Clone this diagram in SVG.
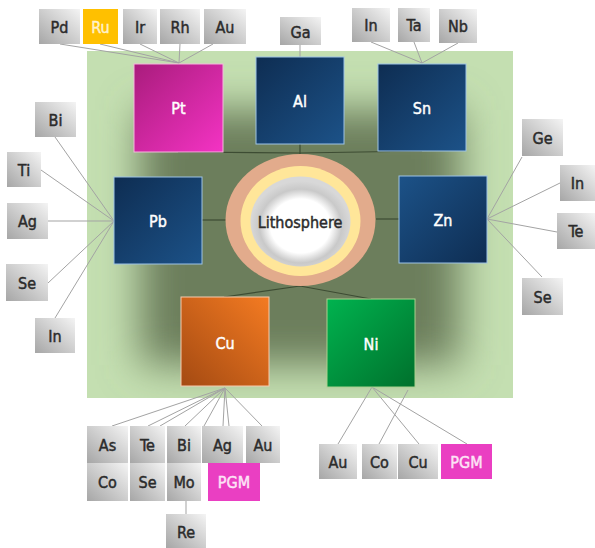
<svg xmlns="http://www.w3.org/2000/svg" width="595" height="548" viewBox="0 0 595 548">
<defs>
<linearGradient id="gGray" x1="0" y1="1" x2="1" y2="0"><stop offset="0" stop-color="#a6a6a6"/><stop offset="1" stop-color="#f4f4f4"/></linearGradient>
<linearGradient id="gBlue" x1="0" y1="0" x2="1" y2="1"><stop offset="0" stop-color="#0e2d52"/><stop offset="1" stop-color="#1c5288"/></linearGradient>
<linearGradient id="gBlueR" x1="1" y1="1" x2="0" y2="0"><stop offset="0" stop-color="#0e2d52"/><stop offset="1" stop-color="#1c5288"/></linearGradient>
<linearGradient id="gPink" x1="0" y1="0" x2="1" y2="1"><stop offset="0" stop-color="#a91c7c"/><stop offset="1" stop-color="#f433c4"/></linearGradient>
<linearGradient id="gOrange" x1="0" y1="1" x2="1" y2="0"><stop offset="0" stop-color="#a44a12"/><stop offset="1" stop-color="#f47b22"/></linearGradient>
<linearGradient id="gGreen" x1="0" y1="0" x2="1" y2="1"><stop offset="0" stop-color="#00b34f"/><stop offset="1" stop-color="#00702c"/></linearGradient>
<radialGradient id="gCore" cx="0.5" cy="0.55" r="0.5"><stop offset="0" stop-color="#ffffff"/><stop offset="0.6" stop-color="#ffffff"/><stop offset="0.82" stop-color="#c9c9c9"/><stop offset="1" stop-color="#d8d8d8"/></radialGradient>
<filter id="blur" x="-50%" y="-50%" width="200%" height="200%"><feGaussianBlur stdDeviation="20"/></filter>
<clipPath id="clipBg"><rect x="87" y="51" width="426" height="347"/></clipPath>
</defs>
<style>
.g{fill:url(#gGray)}
.t{font-family:"DejaVu Sans Condensed","DejaVu Sans",sans-serif;font-size:16px;text-anchor:middle;dominant-baseline:central;stroke-width:0.45}
.dk{fill:#2b2b2b;stroke:#2b2b2b}
.wt{fill:#ffffff;stroke:#ffffff}
.ol{stroke:#a3a3a3;stroke-width:1;fill:none}
.il{stroke:#3d4c33;stroke-width:1.2;fill:none}
.bl{stroke:#9dc3e6;stroke-width:1}
</style>
<rect width="595" height="548" fill="#ffffff"/>
<g id="background">
<rect x="87" y="51" width="426" height="347" fill="#c4dfb1"/>
<g clip-path="url(#clipBg)"><rect x="140" y="110" width="320" height="255" fill="#6c7e5c" filter="url(#blur)"/></g>
</g>
<g id="connectors">
<line class="ol" x1="60" y1="44" x2="179" y2="63"/>
<line class="ol" x1="100" y1="44" x2="179" y2="63"/>
<line class="ol" x1="140" y1="44" x2="179" y2="63"/>
<line class="ol" x1="180" y1="44" x2="179" y2="63"/>
<line class="ol" x1="213" y1="44" x2="179" y2="63"/>
<line class="ol" x1="300" y1="45" x2="300" y2="57"/>
<line class="ol" x1="371" y1="42" x2="422" y2="63"/>
<line class="ol" x1="414" y1="42" x2="422" y2="63"/>
<line class="ol" x1="458" y1="43" x2="422" y2="63"/>
<line class="ol" x1="55" y1="137" x2="114" y2="221"/>
<line class="ol" x1="41" y1="170" x2="114" y2="221"/>
<line class="ol" x1="48" y1="221" x2="114" y2="221"/>
<line class="ol" x1="48" y1="283" x2="114" y2="221"/>
<line class="ol" x1="55" y1="318" x2="114" y2="221"/>
<line class="ol" x1="522" y1="157" x2="487" y2="219"/>
<line class="ol" x1="560" y1="183" x2="487" y2="219"/>
<line class="ol" x1="557" y1="232" x2="487" y2="219"/>
<line class="ol" x1="542" y1="277" x2="487" y2="219"/>
<line class="ol" x1="112" y1="426" x2="225" y2="388"/>
<line class="ol" x1="148" y1="426" x2="225" y2="388"/>
<line class="ol" x1="160" y1="426" x2="225" y2="388"/>
<line class="ol" x1="185" y1="426" x2="225" y2="388"/>
<line class="ol" x1="204" y1="426" x2="225" y2="388"/>
<line class="ol" x1="223" y1="426" x2="225" y2="388"/>
<line class="ol" x1="229" y1="426" x2="225" y2="388"/>
<line class="ol" x1="262" y1="426" x2="225" y2="388"/>
<line class="ol" x1="338" y1="444" x2="372" y2="387"/>
<line class="ol" x1="419" y1="444" x2="372" y2="387"/>
<line class="ol" x1="467" y1="444" x2="372" y2="387"/>
<line class="ol" x1="379" y1="444" x2="408" y2="390"/>
<line class="ol" x1="186" y1="501" x2="186" y2="514"/>
<polyline class="il" points="178,152 300,153 422,151"/>
<line class="il" x1="300" y1="144" x2="300" y2="154"/>
<line class="il" x1="202" y1="220" x2="226" y2="220"/>
<line class="il" x1="376" y1="219" x2="399" y2="219"/>
<polyline class="il" points="224,297 300,286 371,299"/>
</g>
<g id="lithosphere">
<ellipse cx="300.5" cy="220" rx="75" ry="66" fill="#e2ab8c"/>
<ellipse cx="300.5" cy="221" rx="60" ry="55" fill="#ffe699"/>
<ellipse cx="300.5" cy="221.5" rx="50" ry="45" fill="url(#gCore)"/>
<text class="t dk" x="300" y="222">Lithosphere</text>
</g>
<g id="Pt"><rect x="134" y="64" width="89" height="88" fill="url(#gPink)" stroke="#f4b8dc" stroke-width="1"/><text class="t wt" x="178.5" y="108">Pt</text></g>
<g id="Al"><rect x="256" y="57" width="88" height="87" fill="url(#gBlue)" class="bl"/><text class="t wt" x="300" y="101">Al</text></g>
<g id="Sn"><rect x="378" y="64" width="88" height="87" fill="url(#gBlue)" class="bl"/><text class="t wt" x="422" y="108">Sn</text></g>
<g id="Pb"><rect x="114" y="177" width="88" height="87" fill="url(#gBlue)" class="bl"/><text class="t wt" x="158" y="221">Pb</text></g>
<g id="Zn"><rect x="399" y="176" width="88" height="87" fill="url(#gBlueR)" class="bl"/><text class="t wt" x="443" y="220">Zn</text></g>
<g id="Cu"><rect x="181" y="297" width="88" height="89" fill="url(#gOrange)" stroke="#f8cbad" stroke-width="1"/><text class="t wt" x="225" y="343">Cu</text></g>
<g id="Ni"><rect x="327" y="299" width="88" height="88" fill="url(#gGreen)" stroke="#a9d18e" stroke-width="1"/><text class="t wt" x="371" y="344">Ni</text></g>
<g id="Pt-Pd"><rect class="g" x="39" y="9" width="41" height="35"/><text class="t dk" x="59.5" y="27">Pd</text></g>
<g id="Pt-Ru"><rect x="83" y="9" width="35" height="35" fill="#ffc000"/><text class="t" x="100.5" y="27" fill="#fff2cc" stroke="#fff2cc">Ru</text></g>
<g id="Pt-Ir"><rect class="g" x="123" y="9" width="34" height="35"/><text class="t dk" x="140" y="27">Ir</text></g>
<g id="Pt-Rh"><rect class="g" x="160" y="9" width="40" height="35"/><text class="t dk" x="180" y="27">Rh</text></g>
<g id="Pt-Au"><rect class="g" x="204" y="9" width="42" height="35"/><text class="t dk" x="225" y="27">Au</text></g>
<g id="Al-Ga"><rect class="g" x="280" y="17" width="41" height="28"/><text class="t dk" x="300.5" y="32">Ga</text></g>
<g id="Sn-In"><rect class="g" x="352" y="8" width="38" height="34"/><text class="t dk" x="371" y="25">In</text></g>
<g id="Sn-Ta"><rect class="g" x="398" y="8" width="32" height="34"/><text class="t dk" x="414" y="25">Ta</text></g>
<g id="Sn-Nb"><rect class="g" x="439" y="9" width="38" height="34"/><text class="t dk" x="458" y="26">Nb</text></g>
<g id="Pb-Bi"><rect class="g" x="35" y="102" width="41" height="35"/><text class="t dk" x="55.5" y="120">Bi</text></g>
<g id="Pb-Ti"><rect class="g" x="7" y="152" width="34" height="35"/><text class="t dk" x="24" y="170">Ti</text></g>
<g id="Pb-Ag"><rect class="g" x="7" y="203" width="41" height="36"/><text class="t dk" x="27.5" y="221">Ag</text></g>
<g id="Pb-Se"><rect class="g" x="6" y="264" width="42" height="37"/><text class="t dk" x="27" y="283">Se</text></g>
<g id="Pb-In"><rect class="g" x="35" y="318" width="40" height="35"/><text class="t dk" x="55" y="336">In</text></g>
<g id="Zn-Ge"><rect class="g" x="522" y="119" width="41" height="37"/><text class="t dk" x="542.5" y="138">Ge</text></g>
<g id="Zn-In"><rect class="g" x="560" y="165" width="35" height="36"/><text class="t dk" x="577.5" y="183">In</text></g>
<g id="Zn-Te"><rect class="g" x="557" y="213" width="38" height="36"/><text class="t dk" x="576" y="231">Te</text></g>
<g id="Zn-Se"><rect class="g" x="522" y="278" width="41" height="37"/><text class="t dk" x="542.5" y="297">Se</text></g>
<g id="Cu-As"><rect class="g" x="87" y="426" width="41" height="37"/><text class="t dk" x="107.5" y="445">As</text></g>
<g id="Cu-Te"><rect class="g" x="130" y="426" width="35" height="37"/><text class="t dk" x="147.5" y="445">Te</text></g>
<g id="Cu-Bi"><rect class="g" x="167" y="426" width="34" height="37"/><text class="t dk" x="184" y="445">Bi</text></g>
<g id="Cu-Ag"><rect class="g" x="202" y="426" width="41" height="37"/><text class="t dk" x="222.5" y="445">Ag</text></g>
<g id="Cu-Au"><rect class="g" x="246" y="426" width="34" height="37"/><text class="t dk" x="263" y="445">Au</text></g>
<g id="Cu-Co"><rect class="g" x="87" y="463" width="41" height="38"/><text class="t dk" x="107.5" y="482">Co</text></g>
<g id="Cu-Se"><rect class="g" x="130" y="463" width="35" height="38"/><text class="t dk" x="147.5" y="482">Se</text></g>
<g id="Cu-Mo"><rect class="g" x="167" y="463" width="34" height="38"/><text class="t dk" x="184" y="482">Mo</text></g>
<g id="Cu-PGM"><rect x="208" y="463" width="52" height="38" fill="#ea3fc2"/><text class="t" x="234" y="482" fill="#fde4f6" stroke="#fde4f6">PGM</text></g>
<g id="Mo-Re"><rect class="g" x="166" y="514" width="40" height="34"/><text class="t dk" x="186" y="532">Re</text></g>
<g id="Ni-Au"><rect class="g" x="319" y="444" width="38" height="35"/><text class="t dk" x="338" y="462">Au</text></g>
<g id="Ni-Co"><rect class="g" x="362" y="444" width="35" height="35"/><text class="t dk" x="379.5" y="462">Co</text></g>
<g id="Ni-Cu"><rect class="g" x="398" y="444" width="40" height="35"/><text class="t dk" x="418" y="462">Cu</text></g>
<g id="Ni-PGM"><rect x="441" y="444" width="51" height="35" fill="#ea3fc2"/><text class="t" x="466.5" y="462" fill="#fde4f6" stroke="#fde4f6">PGM</text></g>
</svg>
